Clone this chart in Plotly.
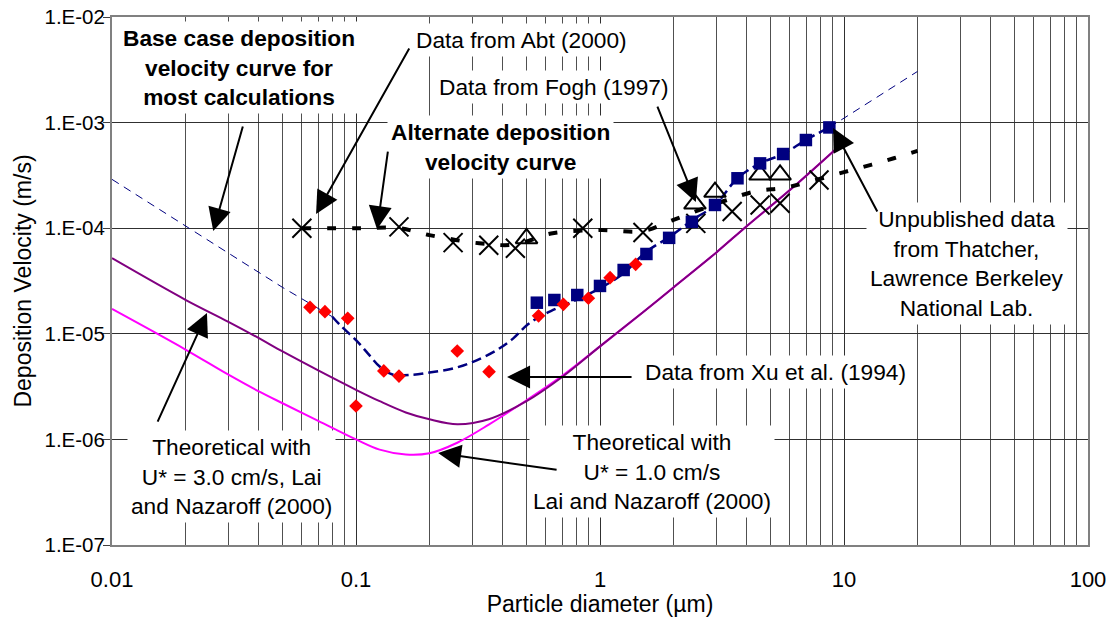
import math
import plotly.graph_objects as go

# ---------------- data ----------------
# Abt (2000) - X markers
abt_x = [0.06, 0.15, 0.25, 0.35, 0.45, 0.85, 1.5, 2.47, 3.48, 4.53, 5.47, 7.9]
abt_y = [1.0e-4, 1.03e-4, 7.3e-5, 6.9e-5, 6.45e-5, 1.0e-4, 9.1e-5, 1.11e-4, 1.44e-4, 1.66e-4, 1.72e-4, 2.86e-4]

# Fogh (1997) - open triangles
fogh_x = [0.5, 2.45, 2.96, 4.53, 5.47]
fogh_y = [8.0e-5, 1.7e-4, 2.2e-4, 3.2e-4, 3.2e-4]

# Thatcher, LBNL - navy squares
thatcher_x = [0.551, 0.65, 0.807, 1.0, 1.25, 1.55, 1.92, 2.38, 2.96, 3.66, 4.53, 5.63, 6.98, 8.71]
thatcher_y = [1.97e-5, 2.09e-5, 2.33e-5, 2.84e-5, 4.02e-5, 5.7e-5, 8.1e-5, 1.15e-4, 1.66e-4, 2.97e-4,
              4.11e-4, 5.04e-4, 6.84e-4, 9.0e-4]

# Xu et al. (1994) - red diamonds
xu_x = [0.0648, 0.0746, 0.0925, 0.100, 0.130, 0.150, 0.26, 0.351, 0.56, 0.708, 0.896, 1.10, 1.40]
xu_y = [1.78e-5, 1.62e-5, 1.40e-5, 2.07e-6, 4.45e-6, 3.98e-6, 6.87e-6, 4.38e-6, 1.48e-5, 1.9e-5,
        2.17e-5, 3.4e-5, 4.55e-5]

# Base case deposition velocity curve (thin extrapolations + thick fitted part)
base_lo_x = [0.01, 0.02, 0.05, 0.08]
base_lo_y = [2.9e-4, 1.05e-4, 2.75e-5, 1.45e-5]
base_mid_x = [0.08, 0.086, 0.1, 0.112, 0.125, 0.142, 0.172, 0.2, 0.25, 0.30, 0.377, 0.44, 0.5, 0.565,
              0.65, 0.8, 1.0, 1.25, 1.55, 1.93, 2.4, 2.96, 3.66, 4.53, 5.63, 6.98, 8.71]
base_mid_y = [1.45e-5, 1.21e-5, 8.7e-6, 6.5e-6, 4.9e-6, 4.1e-6, 4.1e-6, 4.3e-6, 4.7e-6, 5.4e-6, 7.0e-6,
              9.0e-6, 1.2e-5, 1.45e-5, 1.7e-5, 2.1e-5, 2.7e-5, 3.75e-5, 6.0e-5, 8.3e-5, 1.2e-4, 1.66e-4,
              2.97e-4, 4.11e-4, 5.04e-4, 6.84e-4, 9.0e-4]
base_hi_x = [8.71, 20]
base_hi_y = [9.0e-4, 3.05e-3]

# Alternate deposition velocity curve
alt_x = [0.06, 0.1, 0.15, 0.2, 0.32, 0.45, 0.63, 1.0, 1.5, 2.0, 3.2, 4.4, 5.6, 7.0, 10, 13, 16, 20]
alt_y = [1.0e-4, 1.0e-4, 1.0e-4, 8.6e-5, 7.2e-5, 7.0e-5, 8.9e-5, 9.6e-5, 9.4e-5, 1.2e-4, 1.8e-4,
         2.25e-4, 2.4e-4, 2.7e-4, 3.4e-4, 4.0e-4, 4.6e-4, 5.4e-4]

# Theoretical curves, Lai and Nazaroff (2000)
theory_x = [0.01, 0.02, 0.03, 0.04, 0.05, 0.07, 0.1, 0.125, 0.16, 0.2, 0.26, 0.35, 0.5, 0.7, 1.0, 1.5,
            2.0, 3.0, 4.0, 6.0, 10.0]
u3_y = [5.2e-5, 2.1e-5, 1.3e-5, 9.1e-6, 6.8e-6, 4.5e-6, 2.95e-6, 2.3e-6, 1.8e-6, 1.55e-6, 1.39e-6,
        1.55e-6, 2.3e-6, 3.9e-6, 7.6e-6, 1.6e-5, 2.75e-5, 5.9e-5, 1.05e-4, 2.3e-4, 6.6e-4]
u1_y = [1.72e-5, 7.1e-6, 4.1e-6, 2.85e-6, 2.2e-6, 1.5e-6, 1.0e-6, 8.0e-7, 7.2e-7, 7.4e-7, 9.3e-7,
        1.38e-6, 2.35e-6, 4.0e-6, 7.6e-6, 1.6e-5, 2.75e-5, 5.9e-5, 1.05e-4, 2.3e-4, 6.6e-4]

x_tick_vals = [0.01, 0.1, 1, 10, 100]
x_tick_text = ["0.01", "0.1", "1", "10", "100"]
y_tick_vals = [1e-7, 1e-6, 1e-5, 1e-4, 1e-3, 1e-2]
y_tick_text = ["1.E-07", "1.E-06", "1.E-05", "1.E-04", "1.E-03", "1.E-02"]

FONT = "Arial, Liberation Sans, Helvetica, sans-serif"
NAVY = "#000080"

fig = go.Figure()

# theoretical curves
fig.add_trace(go.Scatter(x=theory_x, y=u1_y, mode="lines", line=dict(color="#FF00FF", width=2),
                         line_shape="spline", showlegend=False))
fig.add_trace(go.Scatter(x=theory_x, y=u3_y, mode="lines", line=dict(color="#800080", width=2),
                         line_shape="spline", showlegend=False))

# base case curve
fig.add_trace(go.Scatter(x=base_lo_x, y=base_lo_y, mode="lines",
                         line=dict(color=NAVY, width=1, dash="8px,6px"), showlegend=False))
fig.add_trace(go.Scatter(x=base_hi_x, y=base_hi_y, mode="lines",
                         line=dict(color=NAVY, width=1, dash="8px,6px"), showlegend=False))
fig.add_trace(go.Scatter(x=base_mid_x, y=base_mid_y, mode="lines", line_shape="spline",
                         line=dict(color=NAVY, width=2.5, dash="10px,5px"), showlegend=False))

# alternate curve
fig.add_trace(go.Scatter(x=alt_x, y=alt_y, mode="lines", line_shape="spline",
                         line=dict(color="black", width=4, dash="9px,16px"), showlegend=False))

# data markers
fig.add_trace(go.Scatter(x=abt_x, y=abt_y, mode="markers", showlegend=False,
                         marker=dict(symbol="x-thin", size=19, line=dict(color="black", width=2))))
fig.add_trace(go.Scatter(x=fogh_x, y=fogh_y, mode="markers", showlegend=False,
                         marker=dict(symbol="triangle-up-open", size=19, color="black",
                                     line=dict(color="black", width=2))))
fig.add_trace(go.Scatter(x=thatcher_x, y=thatcher_y, mode="markers", showlegend=False,
                         marker=dict(symbol="square", size=12.5, color=NAVY, line=dict(width=0))))
fig.add_trace(go.Scatter(x=xu_x, y=xu_y, mode="markers", showlegend=False,
                         marker=dict(symbol="diamond", size=10.5, color="#FF0000", line=dict(width=0))))

annotations = []
AF = 22.7


def text_box(txt, x_px, y_px):
    annotations.append(dict(text=txt, xref="paper", yref="paper",
                            x=(x_px - 112) / 976, y=(545 - y_px) / 528,
                            xanchor="center", yanchor="middle", showarrow=False,
                            bgcolor="white", borderpad=3,
                            font=dict(family=FONT, size=AF, color="black")))


def arrow(hx, hy, ax, ay):
    annotations.append(dict(text="", x=math.log10(hx), y=math.log10(hy), xref="x", yref="y",
                            ax=ax, ay=ay, showarrow=True, arrowhead=2, arrowsize=2.3,
                            arrowwidth=2, arrowcolor="black"))


text_box("<b>Base case deposition<br>velocity curve for<br>most calculations</b>", 239, 67)
text_box("Data from Abt (2000)", 521, 40)
text_box("Data from Fogh (1997)", 554, 87)
text_box("<b>Alternate deposition<br>velocity curve</b>", 500, 147)
text_box("Unpublished data<br>from Thatcher,<br>Lawrence Berkeley<br>National Lab.", 967, 263)
text_box("Data from Xu et al. (1994)", 775, 372)
text_box("Theoretical with<br>U* = 1.0 cm/s<br>Lai and Nazaroff (2000)", 652, 471)
text_box("Theoretical with<br>U* = 3.0 cm/s, Lai<br>and Nazaroff (2000)", 231, 476)

arrow(0.026, 9.4e-5, 30, -106)      # base case
arrow(0.0686, 1.36e-4, 94, -167)    # Abt
arrow(0.122, 9.8e-5, 11, -79)       # alternate
arrow(2.47, 1.77e-4, -39, -97)      # Fogh
arrow(9.02, 8.9e-4, 45, 85)         # Thatcher
arrow(0.416, 3.9e-6, 126, 0)        # Xu
arrow(0.217, 7.43e-7, 120, 17)      # U*=1.0
arrow(0.0245, 1.57e-5, -50, 110)    # U*=3.0

minor_x = [m * 10 ** e for e in range(-2, 2) for m in range(2, 10)]

fig.update_layout(
    width=1110, height=617,
    margin=dict(l=112, r=22, t=17, b=72),
    paper_bgcolor="white", plot_bgcolor="white",
    font=dict(family=FONT, color="black"),
    annotations=annotations,
    xaxis=dict(type="log", range=[-2, 2], tickvals=x_tick_vals, ticktext=x_tick_text,
               tickfont=dict(size=22), ticks="", ticklabelstandoff=14, automargin=False,
               showgrid=True, gridcolor="#303030", gridwidth=1,
               minor=dict(tickvals=minor_x, showgrid=True, gridcolor="#505050", gridwidth=1, ticks=""),
               showline=True, linecolor="#808080", linewidth=2, mirror=True, zeroline=False,
               title=dict(text="Particle diameter (µm)", font=dict(size=23), standoff=6)),
    yaxis=dict(type="log", range=[-7, -2], tickvals=y_tick_vals, ticktext=y_tick_text,
               tickfont=dict(size=20.5), ticks="outside", ticklen=7, tickcolor="#404040",
               ticklabelstandoff=-6, automargin=False,
               showgrid=True, gridcolor="#303030", gridwidth=1,
               showline=True, linecolor="#808080", linewidth=2, mirror=True, zeroline=False,
               title=dict(text="Deposition Velocity (m/s)", font=dict(size=23), standoff=6)),
)

fig.write_html("out.html", config={"displayModeBar": False},
               post_script="document.body.style.margin='0';document.body.style.padding='0';")
